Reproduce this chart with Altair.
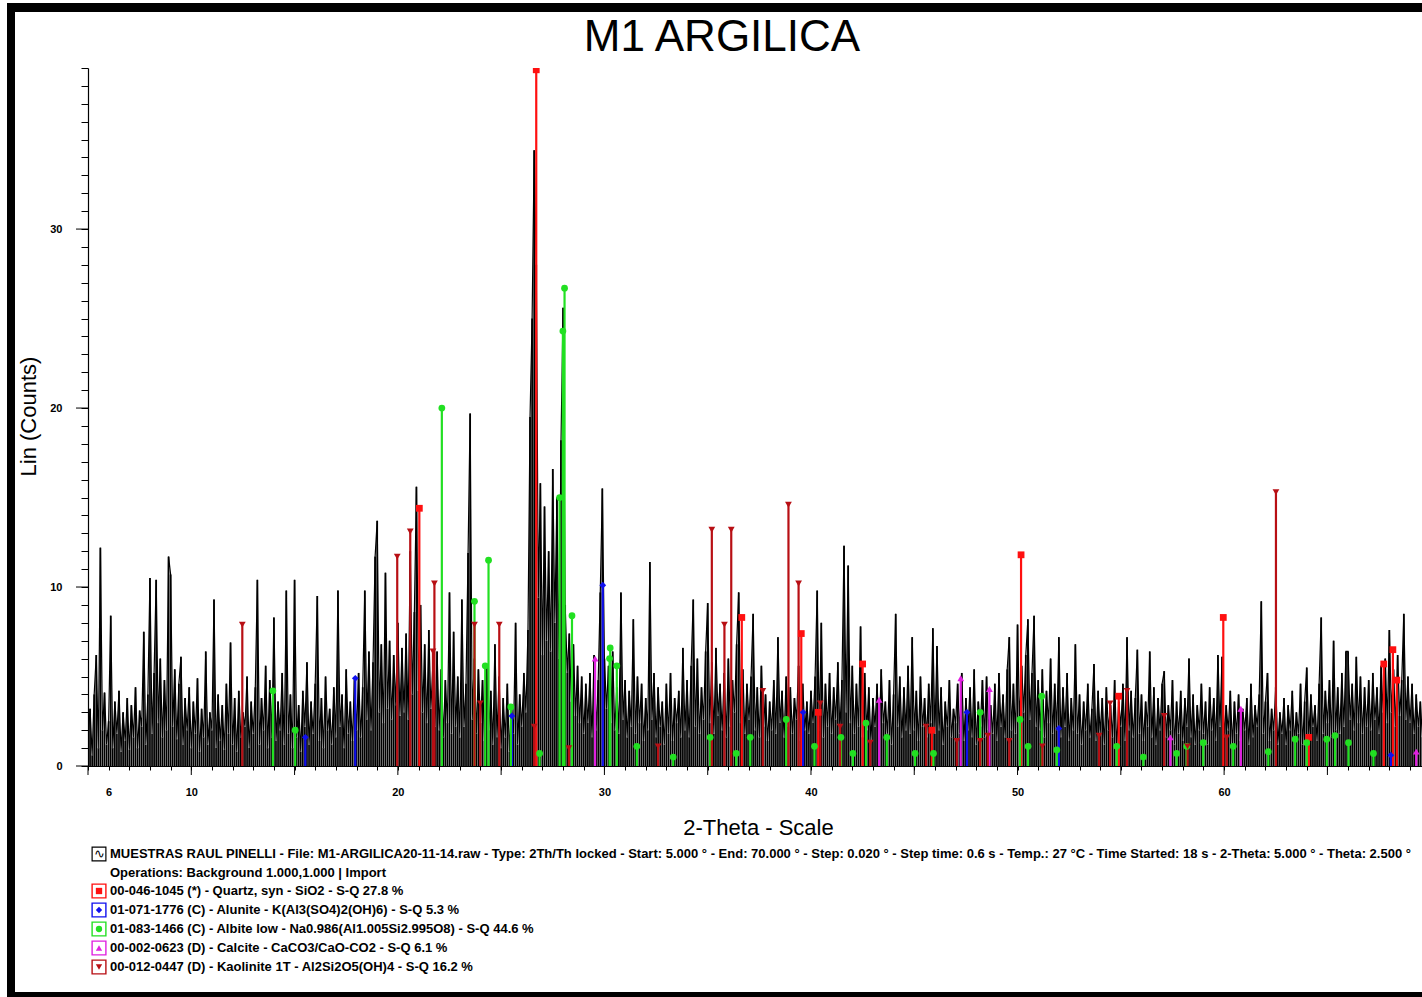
import altair as alt
import pandas as pd

# ---------------- data ----------------
start_angle = 5.0
angle_step = 0.1
# Lin (Counts), one value every 0.1 deg 2-Theta, rows = one degree (5 ... 69)
counts = [
    1.5, 3.2, 0.6, 4.0, 6.2, 1.0, 12.2, 2.0, 4.1, 1.2,   # 5
    2.5, 8.4, 1.0, 3.6, 1.8, 4.2, 0.8, 3.0, 1.4, 3.8,    # 6
    0.9, 3.4, 1.6, 4.4, 1.0, 3.1, 2.2, 7.5, 1.2, 4.0,    # 7
    10.5, 1.8, 5.2, 10.4, 2.4, 6.0, 1.6, 4.8, 2.0, 11.7, # 8
    10.7, 2.2, 5.4, 1.5, 4.6, 6.1, 1.2, 3.8, 2.0, 4.4,   # 9
    1.0, 3.6, 1.8, 4.9, 0.8, 3.2, 1.6, 6.4, 1.2, 3.0,    # 10
    2.0, 9.3, 1.0, 4.0, 1.4, 3.4, 0.9, 4.6, 1.8, 6.9,    # 11
    1.2, 3.8, 0.8, 4.2, 1.6, 3.0, 2.2, 5.0, 1.0, 3.6,    # 12
    1.8, 4.4, 10.4, 1.2, 3.8, 2.0, 5.6, 1.0, 4.8, 1.6,   # 13
    8.3, 1.4, 3.6, 2.0, 5.2, 1.2, 9.8, 1.8, 4.0, 1.0,    # 14
    10.4, 1.6, 3.4, 0.8, 4.2, 2.2, 5.8, 1.2, 3.6, 1.8,   # 15
    4.6, 9.5, 1.4, 3.8, 1.0, 5.0, 2.0, 3.2, 1.2, 4.4,    # 16
    1.6, 9.8, 2.2, 4.0, 1.0, 5.4, 1.8, 3.6, 1.4, 4.8,    # 17
    2.0, 5.2, 1.6, 4.4, 9.8, 2.6, 6.4, 2.0, 5.8, 11.7,   # 18
    13.7, 3.0, 6.8, 2.4, 10.8, 3.2, 7.0, 2.6, 6.2, 3.4,  # 19
    8.0, 2.8, 6.6, 3.0, 7.4, 2.6, 12.0, 4.0, 8.6, 15.6,  # 20
    4.2, 9.0, 3.0, 6.8, 2.4, 7.6, 3.2, 5.8, 2.2, 6.4,    # 21
    2.0, 5.4, 1.6, 4.8, 2.4, 9.7, 1.8, 7.5, 2.2, 5.0,    # 22
    1.6, 9.3, 2.2, 4.6, 11.9, 19.7, 2.6, 6.0, 1.8, 5.4,  # 23
    2.4, 4.8, 1.4, 5.6, 2.0, 4.2, 1.2, 6.8, 1.6, 5.0,    # 24
    1.0, 3.8, 1.6, 4.6, 0.8, 3.4, 1.8, 8.0, 1.2, 4.0,    # 25
    2.2, 5.2, 3.0, 7.6, 19.5, 25.0, 34.4, 28.0, 9.4, 15.8,  # 26
    6.2, 14.5, 7.0, 12.0, 6.4, 16.6, 8.0, 15.0, 6.0, 18.2,  # 27
    25.6, 9.0, 5.2, 7.4, 3.6, 6.8, 2.8, 5.6, 2.4, 5.0,   # 28
    1.8, 4.6, 2.4, 5.2, 1.6, 6.2, 2.0, 4.8, 9.7, 15.5,   # 29
    6.0, 3.2, 5.6, 2.4, 6.4, 2.0, 4.4, 1.8, 9.7, 2.6,    # 30
    4.8, 1.6, 4.2, 2.2, 8.2, 1.8, 5.0, 2.4, 4.6, 1.4,    # 31
    3.8, 2.0, 11.4, 2.6, 5.2, 1.6, 4.4, 2.2, 3.6, 1.2,   # 32
    4.6, 1.8, 5.2, 1.4, 3.8, 2.4, 4.2, 1.6, 6.6, 2.0,    # 33
    4.8, 1.6, 5.6, 9.3, 2.2, 6.0, 1.8, 4.4, 2.6, 6.4,    # 34
    9.1, 2.4, 5.8, 1.8, 6.6, 2.8, 4.6, 2.0, 5.2, 1.6,    # 35
    6.0, 2.2, 4.8, 3.0, 6.8, 9.7, 2.4, 5.4, 1.8, 4.6,    # 36
    2.6, 5.0, 8.5, 2.0, 4.4, 1.6, 5.6, 2.2, 4.0, 1.4,    # 37
    3.6, 2.0, 4.8, 1.8, 7.2, 2.4, 4.2, 1.6, 5.0, 2.2,    # 38
    4.4, 1.8, 3.8, 2.6, 5.6, 1.4, 4.6, 2.0, 3.6, 1.8,    # 39
    4.2, 2.4, 5.0, 9.8, 2.0, 8.0, 1.6, 4.6, 2.2, 5.2,    # 40
    1.8, 4.4, 2.6, 5.8, 2.0, 4.8, 12.3, 3.0, 11.2, 2.4,  # 41
    5.6, 1.8, 4.6, 2.2, 7.8, 1.6, 5.2, 2.0, 4.4, 1.4,    # 42
    3.8, 2.2, 4.6, 1.6, 5.4, 2.4, 3.6, 1.8, 4.8, 1.2,    # 43
    4.0, 8.5, 2.2, 5.0, 1.6, 4.4, 2.0, 5.6, 1.8, 7.2,    # 44
    2.0, 4.2, 1.4, 5.0, 2.2, 3.8, 1.6, 4.6, 2.4, 7.7,    # 45
    1.8, 6.7, 2.0, 4.4, 1.2, 3.6, 2.2, 4.8, 1.6, 3.2,    # 46
    2.4, 4.6, 1.8, 5.2, 1.4, 3.8, 2.0, 4.4, 1.6, 5.4,    # 47
    1.2, 3.6, 2.2, 4.8, 1.6, 5.0, 2.0, 3.4, 1.8, 4.6,    # 48
    1.4, 5.2, 2.2, 4.0, 1.6, 5.4, 7.2, 2.0, 4.6, 1.8,    # 49
    7.9, 2.4, 5.6, 3.0, 6.2, 8.2, 2.6, 5.2, 8.4, 2.2,    # 50
    4.8, 2.0, 5.4, 1.6, 4.2, 2.4, 6.0, 1.8, 4.6, 2.0,    # 51
    7.2, 1.6, 4.4, 2.2, 5.2, 1.4, 3.8, 2.0, 6.8, 1.8,    # 52
    4.0, 1.2, 3.6, 2.0, 4.6, 1.6, 3.2, 5.7, 1.4, 4.2,    # 53
    1.8, 3.8, 1.2, 4.4, 2.0, 3.4, 1.6, 4.8, 1.0, 3.6,    # 54
    2.2, 4.6, 1.4, 7.2, 2.0, 4.2, 1.6, 3.8, 6.5, 1.8,    # 55
    4.0, 1.4, 3.6, 2.2, 6.4, 1.6, 4.4, 1.2, 3.8, 2.0,    # 56
    4.6, 5.3, 1.6, 3.4, 2.0, 4.8, 1.2, 3.6, 1.8, 4.2,    # 57
    1.4, 3.8, 2.2, 6.0, 1.6, 4.0, 1.2, 3.4, 2.0, 4.6,    # 58
    1.8, 3.6, 1.2, 4.4, 2.0, 3.8, 1.4, 6.2, 2.2, 6.1,    # 59
    1.6, 3.4, 2.0, 4.2, 1.2, 3.6, 1.8, 4.0, 1.4, 3.2,    # 60
    2.0, 3.8, 1.2, 4.6, 1.6, 3.4, 2.2, 4.0, 9.2, 1.8,    # 61
    3.6, 5.2, 1.4, 3.2, 2.0, 4.4, 1.2, 3.0, 1.8, 3.8,    # 62
    1.2, 3.4, 2.0, 4.2, 1.4, 3.0, 1.8, 4.6, 1.2, 3.6,    # 63
    5.5, 1.6, 4.0, 2.2, 3.4, 1.4, 4.6, 8.3, 1.8, 4.2,    # 64
    2.4, 4.8, 1.6, 7.0, 2.0, 4.4, 1.8, 5.2, 2.2, 6.4,    # 65
    6.4, 2.6, 4.6, 2.0, 6.1, 2.4, 5.0, 1.8, 4.4, 2.2,    # 66
    4.8, 2.0, 5.2, 2.6, 4.4, 1.8, 5.6, 3.0, 6.0, 2.4,    # 67
    7.6, 3.0, 5.4, 2.2, 6.2, 2.8, 4.8, 8.5, 2.6, 5.0,    # 68
    2.4, 4.6, 1.8, 4.0, 2.2, 3.6, 1.6, 4.2, 2.0, 3.4,    # 69
]

quartz_pos = [21.04, 26.7, 36.65, 39.53, 40.35, 42.5, 45.85, 50.17, 54.9, 59.96, 64.1, 67.73, 68.17, 68.36]
quartz_h = [14.4, 38.9, 8.3, 7.4, 3.0, 5.7, 2.0, 11.8, 3.9, 8.3, 1.6, 5.7, 6.5, 4.8]

kaolinite_pos = [12.47, 19.97, 20.6, 21.7, 21.77, 23.71, 23.99, 24.91, 26.6, 28.28, 32.6, 35.2, 35.81,
                 36.14, 37.67, 38.91, 39.4, 40.45, 41.41, 42.87, 45.57, 47.06, 48.19, 48.56, 49.6, 51.2,
                 53.95, 54.48, 55.3, 57.1, 58.23, 60.13, 62.51]
kaolinite_h = [7.9, 11.7, 13.1, 6.4, 10.2, 7.9, 3.5, 7.9, 2.2, 1.0, 1.1, 13.2, 7.9,
               13.2, 4.2, 14.6, 10.2, 3.5, 2.2, 1.3, 2.2, 1.4, 1.4, 1.7, 1.4, 1.1,
               1.7, 3.5, 4.2, 2.8, 1.1, 1.6, 15.3]

albite_pos = [13.95, 15.03, 22.13, 23.71, 24.23, 24.39, 25.47, 26.86, 27.83, 27.99, 28.07, 28.43, 30.25,
              30.28, 30.6, 31.57, 33.33, 35.12, 36.38, 37.06, 38.8, 40.17, 41.45, 42.03, 42.66, 43.67,
              45.04, 45.93, 48.19, 50.12, 50.51, 51.17, 51.9, 54.8, 56.09, 57.7, 58.19, 58.99, 60.44,
              62.14, 63.44, 64.0, 64.97, 65.37, 66.02, 67.23]
albite_h = [4.2, 2.0, 20.0, 9.2, 5.6, 11.5, 3.3, 0.7, 15.0, 24.3, 26.7, 8.4, 6.0,
            6.6, 5.6, 1.1, 0.5, 1.6, 0.7, 1.6, 2.6, 1.1, 1.6, 0.7, 2.4, 1.6,
            0.7, 0.7, 3.0, 2.6, 1.1, 3.9, 0.9, 1.1, 0.5, 0.7, 1.1, 1.3, 1.1,
            0.8, 1.5, 1.3, 1.5, 1.7, 1.3, 0.7]

alunite_pos = [15.52, 17.94, 25.52, 29.92, 39.62, 47.55, 52.0, 68.07]
alunite_h = [1.6, 4.9, 2.8, 10.1, 3.0, 3.0, 2.1, 0.6]

calcite_pos = [29.55, 43.3, 47.25, 48.64, 57.4, 60.81, 69.3]
calcite_h = [6.0, 3.7, 4.9, 4.3, 1.6, 3.2, 0.8]

phase_names = ["Quartz", "Alunite", "Albite", "Calcite", "Kaolinite"]
phase_colors = ["#ff1010", "#1010ee", "#22e022", "#e020e0", "#b80f14"]
phase_shapes = ["square", "diamond", "circle", "triangle-up", "triangle-down"]

legend_lines = [
    "MUESTRAS RAUL PINELLI - File: M1-ARGILICA20-11-14.raw - Type: 2Th/Th locked - Start: 5.000 ° - End: 70.000 ° - Step: 0.020 ° - Step time: 0.6 s - Temp.: 27 °C - Time Started: 18 s - 2-Theta: 5.000 ° - Theta: 2.500 °",
    "Operations: Background 1.000,1.000 | Import",
    "00-046-1045 (*) - Quartz, syn - SiO2 - S-Q 27.8 %",
    "01-071-1776 (C) - Alunite - K(Al3(SO4)2(OH)6) - S-Q 5.3 %",
    "01-083-1466 (C) - Albite low - Na0.986(Al1.005Si2.995O8) - S-Q 44.6 %",
    "00-002-0623 (D) - Calcite - CaCO3/CaO-CO2 - S-Q 6.1 %",
    "00-012-0447 (D) - Kaolinite 1T - Al2Si2O5(OH)4 - S-Q 16.2 %",
]

x_ticks = list(range(5, 70))
x_major_ticks = [5, 10, 15, 20, 25, 30, 35, 40, 45, 50, 55, 60, 65]
x_labels = [6, 10, 20, 30, 40, 50, 60]
y_ticks = list(range(0, 40))
y_major_ticks = [0, 10, 20, 30]

# ---------------- tables ----------------
pattern = pd.DataFrame({
    "two_theta": [round(start_angle + i * angle_step, 2) for i in range(len(counts))],
    "counts": counts,
})

rows = []
for name, pos, h in [("Quartz", quartz_pos, quartz_h), ("Alunite", alunite_pos, alunite_h),
                     ("Albite", albite_pos, albite_h), ("Calcite", calcite_pos, calcite_h),
                     ("Kaolinite", kaolinite_pos, kaolinite_h)]:
    for p, v in zip(pos, h):
        rows.append({"phase": name, "pos": p, "height": v})
sticks = pd.DataFrame(rows)

# ---------------- layout ----------------
W, H = 1334, 698
FONT = "Liberation Sans, Arial, sans-serif"
LEG_FONT = "Liberation Sans Narrow, Arial Narrow, Liberation Sans, Arial, sans-serif"

xscale = alt.Scale(domain=[5, 69.58], nice=False, zero=False)
yscale = alt.Scale(domain=[0, 39], nice=False, zero=True)
cscale = alt.Scale(domain=phase_names, range=phase_colors)
sscale = alt.Scale(domain=phase_names, range=phase_shapes)

label_list = "[" + ",".join(str(v) for v in x_labels) + "]"
xaxis = alt.Axis(
    values=x_ticks, labelExpr=f"indexof({label_list}, datum.value) >= 0 ? datum.label : ''",
    grid=False, domainColor="black", domainWidth=1.2, tickColor="black", tickWidth=1,
    tickSize=4,
    labelFont=FONT, labelFontWeight="bold", labelFontSize=11, labelColor="black",
    labelPadding=16, labelOverlap=False, labelFlush=False,
    title="2-Theta - Scale", titleFont=FONT, titleFontSize=22, titleFontWeight="normal",
    titleColor="black", titleX=670, titleY=61, titleBaseline="middle", titleAlign="center",
)
yaxis = alt.Axis(
    values=y_ticks, labelExpr="datum.value % 10 === 0 ? datum.label : ''",
    grid=False, domainColor="black", domainWidth=1.2, tickColor="black", tickWidth=1,
    tickSize=7,
    labelFont=FONT, labelFontWeight="bold", labelFontSize=11, labelColor="black",
    labelPadding=19, labelOverlap=False, labelFlush=False,
    title="Lin (Counts)", titleFont=FONT, titleFontSize=22, titleFontWeight="normal",
    titleColor="black", titleX=-60, titleY=348, titleBaseline="middle", titleAlign="center",
    titleAngle=270,
)

layers = []

# page frame
frame_src = pd.DataFrame({"k": [0]})
for x1, x2, y1, y2 in [(-81, -73, -65, 929), (-81, W, -65, -56), (-81, W, 924, 929)]:
    layers.append(alt.Chart(frame_src).mark_rect(color="black").encode(
        x=alt.value(x1), x2=alt.value(x2), y=alt.value(y1), y2=alt.value(y2)))

# diffraction pattern: a vertical stroke per sample plus the connecting trace
layers.append(alt.Chart(pattern).mark_rule(color="black", strokeWidth=1.75, clip=True).encode(
    x=alt.X("two_theta:Q", scale=xscale, axis=xaxis),
    y=alt.Y("counts:Q", scale=yscale, axis=yaxis),
    y2=alt.datum(0),
))
layers.append(alt.Chart(pattern).mark_line(color="black", strokeWidth=1.2, clip=True).encode(
    x=alt.X("two_theta:Q", scale=xscale, axis=xaxis),
    y=alt.Y("counts:Q", scale=yscale, axis=yaxis),
))

# longer major ticks
xt = pd.DataFrame({"two_theta": x_major_ticks})
layers.append(alt.Chart(xt).mark_rule(color="black", strokeWidth=1).encode(
    x=alt.X("two_theta:Q", scale=xscale, axis=xaxis), y=alt.value(H), y2=alt.value(H + 9)))
yt = pd.DataFrame({"counts": y_major_ticks})
layers.append(alt.Chart(yt).mark_rule(color="black", strokeWidth=1).encode(
    y=alt.Y("counts:Q", scale=yscale, axis=yaxis), x=alt.value(0), x2=alt.value(-12)))

# reference sticks
layers.append(alt.Chart(sticks).mark_rule(strokeWidth=2.2, clip=True).encode(
    x=alt.X("pos:Q", scale=xscale, axis=xaxis),
    y=alt.Y("height:Q", scale=yscale, axis=yaxis),
    y2=alt.datum(0),
    color=alt.Color("phase:N", scale=cscale, legend=None),
))
layers.append(alt.Chart(sticks).mark_point(filled=True, size=46, opacity=1, clip=True).encode(
    x=alt.X("pos:Q", scale=xscale, axis=xaxis),
    y=alt.Y("height:Q", scale=yscale, axis=yaxis),
    color=alt.Color("phase:N", scale=cscale, legend=None),
    shape=alt.Shape("phase:N", scale=sscale, legend=None),
))

# legend block below the plot
row_y = [786, 805, 823, 842, 861, 880, 899]
txt_src = pd.DataFrame({"k": [0]})
for i, line in enumerate(legend_lines):
    layers.append(alt.Chart(txt_src).mark_text(
        text=line, align="left", baseline="middle", font=LEG_FONT, fontSize=13,
        fontWeight="bold", color="black").encode(x=alt.value(22), y=alt.value(row_y[i])))

# icon of the scan line
layers.append(alt.Chart(txt_src).mark_point(shape="square", size=190, filled=False, color="black",
                                            strokeWidth=1.2, opacity=1).encode(
    x=alt.value(11), y=alt.value(row_y[0])))
layers.append(alt.Chart(txt_src).mark_text(text="\u223f", fontSize=13, color="black", baseline="middle",
                                           align="center").encode(x=alt.value(11), y=alt.value(row_y[0])))

# phase symbols in boxes
legend_order = ["Quartz", "Alunite", "Albite", "Calcite", "Kaolinite"]
for j, name in enumerate(legend_order):
    col = phase_colors[phase_names.index(name)]
    shp = phase_shapes[phase_names.index(name)]
    yy = row_y[2 + j]
    layers.append(alt.Chart(txt_src).mark_point(shape="square", size=190, filled=False, color=col,
                                                strokeWidth=1.4, opacity=1).encode(
        x=alt.value(11), y=alt.value(yy)))
    layers.append(alt.Chart(txt_src).mark_point(shape=shp, size=40, filled=True, color=col,
                                                opacity=1).encode(
        x=alt.value(11), y=alt.value(yy)))

# title
layers.append(alt.Chart(txt_src).mark_text(
    text="M1 ARGILICA", fontSize=44, font=FONT, color="black", align="center",
    baseline="middle").encode(x=alt.value(634), y=alt.value(-30)))

chart = alt.layer(*layers).properties(
    width=W, height=H,
    autosize=alt.AutoSizeParams(type="none"),
    padding={"left": 88, "top": 68, "right": 0, "bottom": 231},
    background="white",
).configure_view(stroke=None)

chart.save("out.html", embed_options={"renderer": "svg", "actions": False})
